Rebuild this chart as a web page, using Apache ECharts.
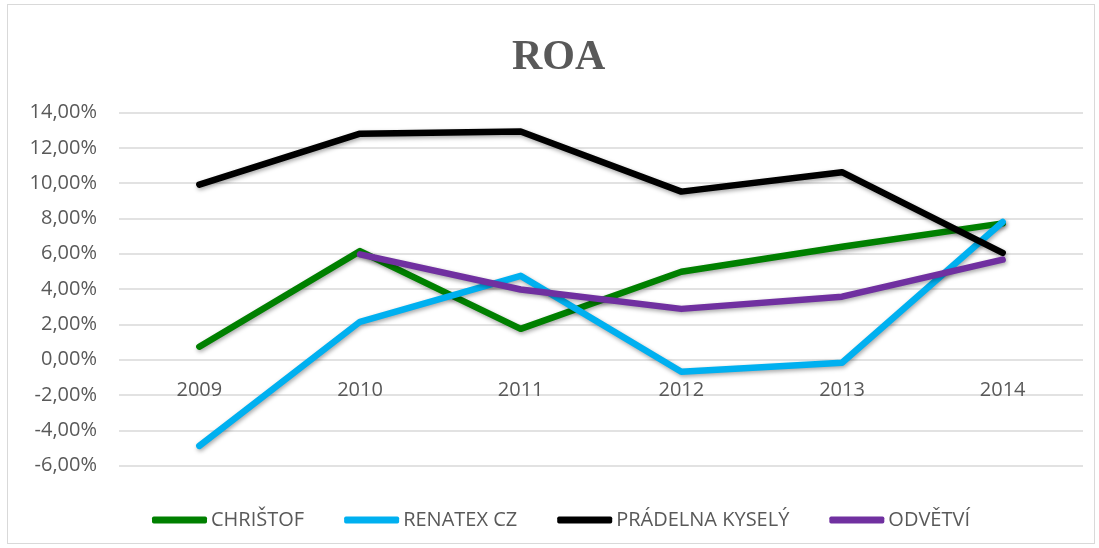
<!DOCTYPE html>
<html>
<head>
<meta charset="utf-8">
<script src="https://cdn.jsdelivr.net/npm/echarts@6/dist/echarts.min.js"></script>
<style>
  html, body { margin: 0; padding: 0; background: #fff; }
  #main { position: absolute; left: 7px; top: 4px; width: 1088px; height: 540px; border: 1px solid #d9d9d9; box-sizing: border-box; }
</style>
</head>
<body>
<div id="main"></div>
<script>
var years = ['2009', '2010', '2011', '2012', '2013', '2014'];
var christof = [0.74, 6.15, 1.75, 4.98, 6.4, 7.72];
var renatex = [-4.88, 2.15, 4.75, -0.68, -0.17, 7.8];
var pradelna = [9.92, 12.8, 12.92, 9.52, 10.62, 6.05];
var odvetvi = [null, 5.97, 3.98, 2.88, 3.57, 5.67];

var names = ['CHRIŠTOF', 'RENATEX CZ', 'PRÁDELNA KYSELÝ', 'ODVĚTVÍ'];
var colors = ['#008000', '#00b0f0', '#000000', '#7030a0'];
var values = [christof, renatex, pradelna, odvetvi];

var myChart = echarts.init(document.getElementById('main'));

var series = [];
for (var i = 0; i < names.length; i++) {
  series.push({
    name: names[i],
    type: 'line',
    data: values[i],
    symbol: 'none',
    lineStyle: {
      width: 6.5,
      color: colors[i],
      cap: 'round',
      join: 'round',
      shadowColor: 'rgba(0,0,0,0.35)',
      shadowBlur: 4,
      shadowOffsetX: 1,
      shadowOffsetY: 2
    },
    itemStyle: { color: colors[i] }
  });
}

// vzdálenost nuly od spodní mřížky (osa X leží na nule)
var plotH = 538 - 107.5 - 77.3;
var zeroOffset = -plotH * 6 / 20;

var option = {
  animation: false,
  color: colors,
  title: {
    text: 'ROA',
    left: 499,
    top: 27,
    textStyle: { fontFamily: 'Liberation Serif', fontSize: 42, fontWeight: 'bold', color: '#595959' }
  },
  legend: {
    top: 500,
    left: 139,
    itemWidth: 55,
    itemHeight: 7,
    itemGap: 40,
    icon: 'roundRect',
    textStyle: { fontFamily: 'Open Sans', fontSize: 20, color: '#595959', padding: [0, 0, 0, -1] },
    data: names
  },
  grid: { left: 111, right: 11, top: 107.5, bottom: 77.3, containLabel: false },
  xAxis: {
    type: 'category',
    data: years,
    boundaryGap: true,
    offset: zeroOffset,
    axisLine: { show: false, onZero: false },
    axisTick: { show: false },
    axisLabel: { margin: 21, fontFamily: 'Open Sans', fontSize: 20, color: '#595959' }
  },
  yAxis: {
    type: 'value',
    min: -6,
    max: 14,
    interval: 2,
    axisLine: { show: false },
    axisTick: { show: false },
    axisLabel: {
      margin: 22,
      fontFamily: 'Open Sans',
      fontSize: 20,
      color: '#595959',
      formatter: function (v) { return v.toFixed(2).replace('.', ',') + '%'; }
    },
    splitLine: { lineStyle: { color: '#d9d9d9', width: 1.5 } }
  },
  series: series
};

myChart.setOption(option);
</script>
</body>
</html>
